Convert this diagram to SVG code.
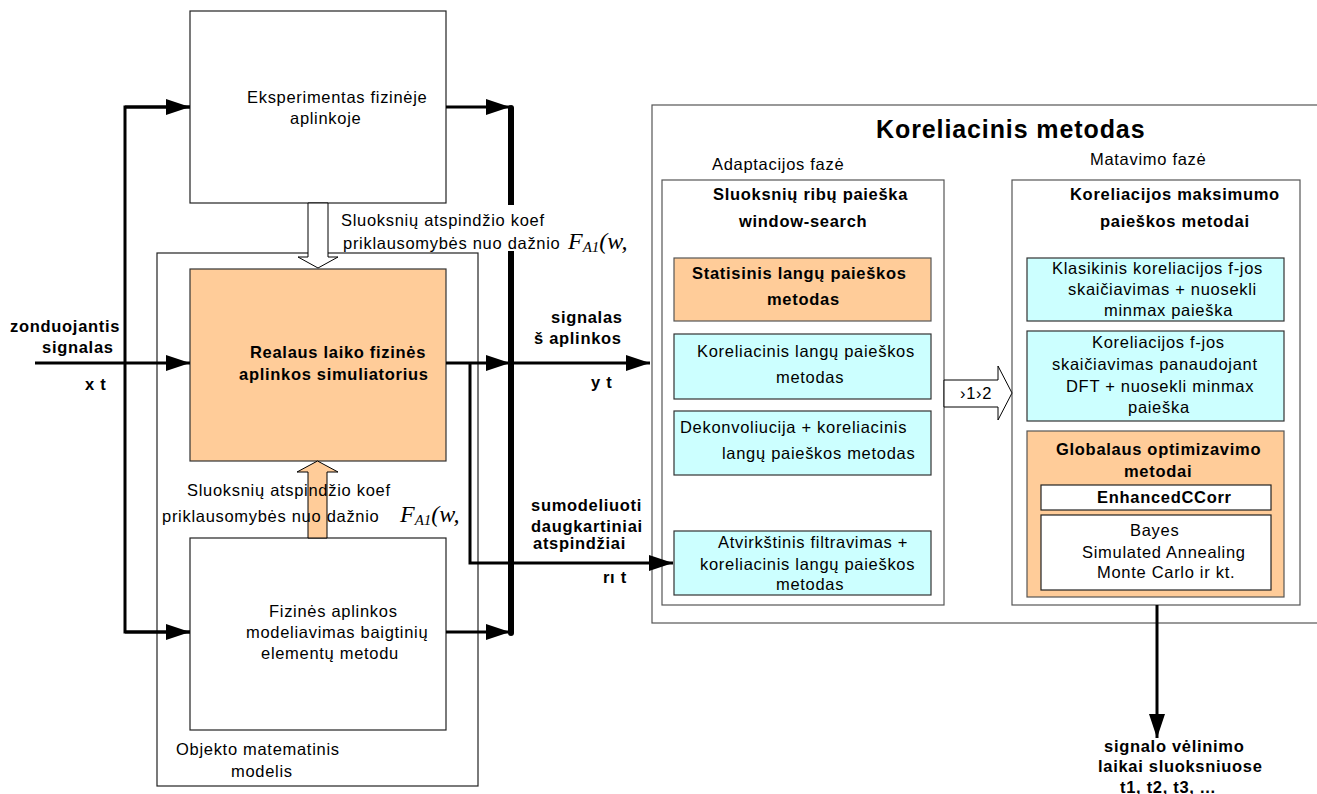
<svg xmlns="http://www.w3.org/2000/svg" width="1317" height="794" viewBox="0 0 1317 794">
  <defs>
    <style>
      text { font-family: "Liberation Sans", Arial, sans-serif; font-size: 16.5px; letter-spacing: 0.7px; fill: #000; }
      .b { font-weight: bold; }
      .title { font-size: 25px; font-weight: bold; letter-spacing: 0.9px; }
      .math { font-family: "Liberation Serif", "Times New Roman", serif; font-style: italic; font-size: 24px; letter-spacing: 0; }
      .sub { font-size: 15px; }
      .box { fill: #fff; stroke: #222; stroke-width: 1.2; }
      .sim { fill: #FFCC99; stroke: #333; stroke-width: 1.2; }
      .panel { fill: #fff; stroke: #555; stroke-width: 1.2; }
      .cyan { fill: #CCFFFF; stroke: #333; stroke-width: 1.2; }
      .orange { fill: #FFCC99; stroke: #555; stroke-width: 1.2; }
      .wire { fill: none; stroke: #000; stroke-width: 3; }
      .hollow { fill: #fff; stroke: #000; stroke-width: 1; }
    </style>
    <marker id="head" viewBox="0 0 24 16" refX="24" refY="8" markerWidth="24" markerHeight="16" markerUnits="userSpaceOnUse" orient="auto">
      <path d="M0,0 L24,8 L0,16 Z" fill="#000"/>
    </marker>
  </defs>

  <rect width="1317" height="794" fill="#fff"/>

  <!-- mathematical model frame -->
  <g id="model">
    <rect class="box" x="157" y="253" width="321" height="533"/>
    <text x="176" y="755">Objekto matematinis</text>
    <text x="231" y="777">modelis</text>
  </g>

  <!-- physical experiment -->
  <g id="experiment">
    <rect class="box" x="190" y="11" width="256" height="192"/>
    <text x="247" y="103">Eksperimentas fizinėje</text>
    <text x="290" y="124">aplinkoje</text>
  </g>

  <!-- real-time simulator -->
  <g id="simulator">
    <rect class="sim" x="190" y="269" width="256" height="192"/>
    <text class="b" x="250" y="358">Realaus laiko fizinės</text>
    <text class="b" x="239" y="380">aplinkos simuliatorius</text>
  </g>

  <!-- finite element model -->
  <g id="fem">
    <rect class="box" x="190" y="538" width="256" height="192"/>
    <text x="269" y="617">Fizinės aplinkos</text>
    <text x="246" y="638">modeliavimas baigtinių</text>
    <text x="261" y="659">elementų metodu</text>
  </g>

  <!-- correlation method panel -->
  <g id="correlation">
    <rect class="panel" x="652" y="105" width="700" height="518"/>
    <text class="title" x="876" y="138">Koreliacinis metodas</text>
    <text x="712" y="170">Adaptacijos fazė</text>
    <text x="1090" y="165">Matavimo fazė</text>
  </g>

  <g id="adaptation">
    <rect class="panel" x="662" y="180" width="282" height="425"/>
    <text class="b" x="713" y="200">Sluoksnių ribų paieška</text>
    <text class="b" x="739" y="227">window-search</text>
  </g>

  <g id="static-window">
    <rect class="orange" x="674" y="258" width="257" height="63"/>
    <text class="b" x="692" y="279">Statisinis langų paieškos</text>
    <text class="b" x="767" y="305">metodas</text>
  </g>

  <g id="corr-window">
    <rect class="cyan" x="674" y="334" width="257" height="65"/>
    <text x="697" y="357">Koreliacinis langų paieškos</text>
    <text x="776" y="383">metodas</text>
  </g>

  <g id="deconv-window">
    <rect class="cyan" x="674" y="411" width="257" height="64"/>
    <text x="680" y="433">Dekonvoliucija + koreliacinis</text>
    <text x="722" y="459">langų paieškos metodas</text>
  </g>

  <g id="inverse-window">
    <rect class="cyan" x="674" y="531" width="257" height="64"/>
    <text x="718" y="548">Atvirkštinis filtravimas +</text>
    <text x="700" y="570">koreliacinis langų paieškos</text>
    <text x="776" y="590">metodas</text>
  </g>

  <g id="measurement">
    <rect class="panel" x="1012" y="180" width="288" height="425"/>
    <text class="b" x="1070" y="200">Koreliacijos maksimumo</text>
    <text class="b" x="1100" y="227">paieškos metodai</text>
  </g>

  <g id="classic">
    <rect class="cyan" x="1027" y="258" width="257" height="63"/>
    <text x="1052" y="274">Klasikinis koreliacijos f-jos</text>
    <text x="1068" y="295">skaičiavimas + nuosekli</text>
    <text x="1104" y="316">minmax paieška</text>
  </g>

  <g id="dft">
    <rect class="cyan" x="1027" y="331" width="257" height="90"/>
    <text x="1092" y="348">Koreliacijos f-jos</text>
    <text x="1052" y="370">skaičiavimas panaudojant</text>
    <text x="1066" y="392">DFT + nuosekli minmax</text>
    <text x="1128" y="413">paieška</text>
  </g>

  <g id="global">
    <rect class="orange" x="1027" y="431" width="257" height="166"/>
    <text class="b" x="1056" y="455">Globalaus optimizavimo</text>
    <text class="b" x="1124" y="477">metodai</text>
  </g>

  <g id="enhanced">
    <rect class="box" x="1041" y="485" width="230" height="25"/>
    <text class="b" x="1097" y="503">EnhancedCCorr</text>
  </g>

  <g id="stochastic">
    <rect class="box" x="1041" y="515" width="230" height="75"/>
    <text x="1130" y="536">Bayes</text>
    <text x="1082" y="558">Simulated Annealing</text>
    <text x="1097" y="578">Monte Carlo ir kt.</text>
  </g>

  <!-- connectors -->
  <g id="connectors">
    <!-- signal collector bar -->
    <rect x="508" y="105" width="6" height="531" rx="3" fill="#000"/>

    <!-- probing signal distribution -->
    <line class="wire" x1="35" y1="363" x2="190" y2="363" marker-end="url(#head)"/>
    <polyline class="wire" points="190,107 125,107 125,632 190,632"/>
    <line class="wire" x1="125" y1="107" x2="190" y2="107" marker-end="url(#head)"/>
    <line class="wire" x1="125" y1="632" x2="190" y2="632" marker-end="url(#head)"/>

    <!-- outputs to collector bar -->
    <line class="wire" x1="446" y1="107" x2="510" y2="107" marker-end="url(#head)"/>
    <line class="wire" x1="446" y1="363" x2="510" y2="363" marker-end="url(#head)"/>
    <line class="wire" x1="446" y1="632" x2="510" y2="632" marker-end="url(#head)"/>

    <!-- to correlation method -->
    <line class="wire" x1="510" y1="363" x2="650" y2="363" marker-end="url(#head)"/>
    <polyline class="wire" points="470,363 470,563 673,563" marker-end="url(#head)"/>

    <!-- delay times output -->
    <line class="wire" x1="1157" y1="605" x2="1157" y2="738" marker-end="url(#head)"/>

    <!-- block arrows -->
    <polygon class="hollow" points="308,203 328,203 328,257 338,257 318,268 298,257 308,257"/>
    <polygon class="hollow" points="308,538 327,538 327,472 338,472 317.5,461 297,472 308,472" style="fill:#FFCC99"/>
    <polygon class="hollow" points="944,380 998,380 998,366 1012,393 998,420 998,407 944,407"/>
    <text x="960" y="399">›1›2</text>
  </g>

  <!-- reflection coefficient labels -->
  <g id="label-top">
    <rect x="331" y="205" width="309" height="46" fill="#fff"/>
    <text x="341" y="226">Sluoksnių atspindžio koef</text>
    <text x="343" y="249">priklausomybės nuo dažnio</text>
    <text class="math" x="568" y="249">F<tspan class="sub" dy="3">A1</tspan><tspan dy="-3">(w,</tspan></text>
  </g>

  <g id="label-bottom">
    <text x="187" y="496">Sluoksnių atspindžio koef</text>
    <text x="162" y="522">priklausomybės nuo dažnio</text>
    <text class="math" x="400" y="522">F<tspan class="sub" dy="3">A1</tspan><tspan dy="-3">(w,</tspan></text>
  </g>

  <!-- signal labels -->
  <g id="signal-labels">
    <text class="b" x="10" y="332">zonduojantis</text>
    <text class="b" x="42" y="353">signalas</text>
    <text class="b" x="85" y="390">x t</text>
    <text class="b" x="551" y="323">signalas</text>
    <text class="b" x="534" y="344">š aplinkos</text>
    <text class="b" x="591" y="388">y t</text>
    <text class="b" x="531" y="511">sumodeliuoti</text>
    <text class="b" x="531" y="532">daugkartiniai</text>
    <text class="b" x="533" y="549">atspindžiai</text>
    <text class="b" x="603" y="583">rı t</text>
    <text class="b" x="1104" y="752">signalo vėlinimo</text>
    <text class="b" x="1098" y="772">laikai sluoksniuose</text>
    <text class="b" x="1120" y="793">t1, t2, t3, ...</text>
  </g>
</svg>
